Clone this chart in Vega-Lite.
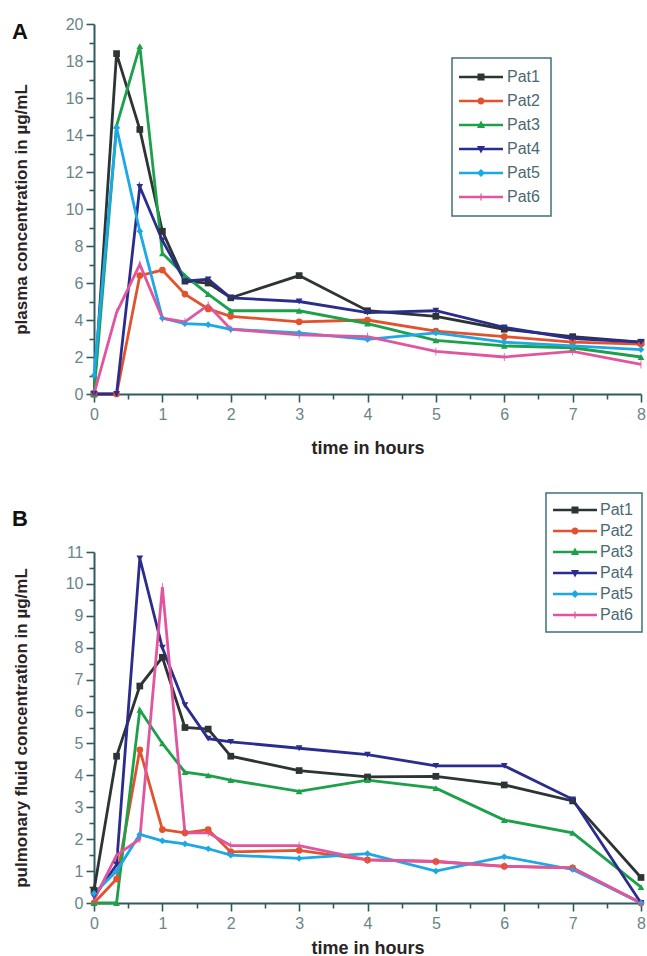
{
  "$schema": "https://vega.github.io/schema/vega-lite/v6.json",
  "padding": {"left": 12, "top": 16, "right": 0, "bottom": 0},
  "spacing": 35,
  "config": {
    "view": {"stroke": null},
    "font": "Liberation Sans",
    "axis": {
      "grid": false,
      "domainColor": "#2f5a60",
      "domainWidth": 2,
      "tickColor": "#2f5a60",
      "tickWidth": 1.6,
      "labelColor": "#6a8589",
      "labelFontSize": 16,
      "labelFont": "Liberation Sans",
      "labelFlush": false,
      "titleFont": "Liberation Sans",
      "titleFontWeight": "bold",
      "titleFontSize": 17,
      "titleColor": "#2a2424"
    },
    "legend": {
      "labelFont": "Liberation Sans",
      "labelFontSize": 16,
      "labelColor": "#4a6a70",
      "strokeColor": "#3f7078",
      "strokeWidth": 1.5,
      "symbolStrokeWidth": 0
    },
    "title": {"font": "Liberation Sans", "fontWeight": "bold", "fontSize": 22, "color": "#111111"}
  },
  "datasets": {
    "a": [
      {"pat": "Pat1", "t": 0, "c": 0}, {"pat": "Pat1", "t": 0.33, "c": 18.4}, {"pat": "Pat1", "t": 0.67, "c": 14.3}, {"pat": "Pat1", "t": 1, "c": 8.8}, {"pat": "Pat1", "t": 1.33, "c": 6.1}, {"pat": "Pat1", "t": 1.67, "c": 6.0}, {"pat": "Pat1", "t": 2, "c": 5.2}, {"pat": "Pat1", "t": 3, "c": 6.4}, {"pat": "Pat1", "t": 4, "c": 4.5}, {"pat": "Pat1", "t": 5, "c": 4.2}, {"pat": "Pat1", "t": 6, "c": 3.5}, {"pat": "Pat1", "t": 7, "c": 3.1}, {"pat": "Pat1", "t": 8, "c": 2.8},
      {"pat": "Pat2", "t": 0, "c": 0}, {"pat": "Pat2", "t": 0.33, "c": 0}, {"pat": "Pat2", "t": 0.67, "c": 6.4}, {"pat": "Pat2", "t": 1, "c": 6.7}, {"pat": "Pat2", "t": 1.33, "c": 5.4}, {"pat": "Pat2", "t": 1.67, "c": 4.6}, {"pat": "Pat2", "t": 2, "c": 4.2}, {"pat": "Pat2", "t": 3, "c": 3.9}, {"pat": "Pat2", "t": 4, "c": 4.0}, {"pat": "Pat2", "t": 5, "c": 3.4}, {"pat": "Pat2", "t": 6, "c": 3.1}, {"pat": "Pat2", "t": 7, "c": 2.8}, {"pat": "Pat2", "t": 8, "c": 2.7},
      {"pat": "Pat3", "t": 0, "c": 0}, {"pat": "Pat3", "t": 0.33, "c": 14.5}, {"pat": "Pat3", "t": 0.67, "c": 18.8}, {"pat": "Pat3", "t": 1, "c": 7.6}, {"pat": "Pat3", "t": 1.33, "c": 6.4}, {"pat": "Pat3", "t": 1.67, "c": 5.4}, {"pat": "Pat3", "t": 2, "c": 4.5}, {"pat": "Pat3", "t": 3, "c": 4.5}, {"pat": "Pat3", "t": 4, "c": 3.8}, {"pat": "Pat3", "t": 5, "c": 2.9}, {"pat": "Pat3", "t": 6, "c": 2.6}, {"pat": "Pat3", "t": 7, "c": 2.5}, {"pat": "Pat3", "t": 8, "c": 2.0},
      {"pat": "Pat4", "t": 0, "c": 0}, {"pat": "Pat4", "t": 0.33, "c": 0}, {"pat": "Pat4", "t": 0.67, "c": 11.2}, {"pat": "Pat4", "t": 1, "c": 8.3}, {"pat": "Pat4", "t": 1.33, "c": 6.1}, {"pat": "Pat4", "t": 1.67, "c": 6.2}, {"pat": "Pat4", "t": 2, "c": 5.2}, {"pat": "Pat4", "t": 3, "c": 5.0}, {"pat": "Pat4", "t": 4, "c": 4.4}, {"pat": "Pat4", "t": 5, "c": 4.5}, {"pat": "Pat4", "t": 6, "c": 3.6}, {"pat": "Pat4", "t": 7, "c": 3.0}, {"pat": "Pat4", "t": 8, "c": 2.8},
      {"pat": "Pat5", "t": 0, "c": 1.0}, {"pat": "Pat5", "t": 0.33, "c": 14.4}, {"pat": "Pat5", "t": 0.67, "c": 8.8}, {"pat": "Pat5", "t": 1, "c": 4.1}, {"pat": "Pat5", "t": 1.33, "c": 3.8}, {"pat": "Pat5", "t": 1.67, "c": 3.75}, {"pat": "Pat5", "t": 2, "c": 3.5}, {"pat": "Pat5", "t": 3, "c": 3.3}, {"pat": "Pat5", "t": 4, "c": 2.95}, {"pat": "Pat5", "t": 5, "c": 3.3}, {"pat": "Pat5", "t": 6, "c": 2.8}, {"pat": "Pat5", "t": 7, "c": 2.6}, {"pat": "Pat5", "t": 8, "c": 2.4},
      {"pat": "Pat6", "t": 0, "c": 0}, {"pat": "Pat6", "t": 0.33, "c": 4.4}, {"pat": "Pat6", "t": 0.67, "c": 7.0}, {"pat": "Pat6", "t": 1, "c": 4.1}, {"pat": "Pat6", "t": 1.33, "c": 3.9}, {"pat": "Pat6", "t": 1.67, "c": 4.8}, {"pat": "Pat6", "t": 2, "c": 3.5}, {"pat": "Pat6", "t": 3, "c": 3.2}, {"pat": "Pat6", "t": 4, "c": 3.1}, {"pat": "Pat6", "t": 5, "c": 2.3}, {"pat": "Pat6", "t": 6, "c": 2.0}, {"pat": "Pat6", "t": 7, "c": 2.3}, {"pat": "Pat6", "t": 8, "c": 1.6}
    ],
    "b": [
      {"pat": "Pat1", "t": 0, "c": 0.4}, {"pat": "Pat1", "t": 0.33, "c": 4.6}, {"pat": "Pat1", "t": 0.67, "c": 6.8}, {"pat": "Pat1", "t": 1, "c": 7.7}, {"pat": "Pat1", "t": 1.33, "c": 5.5}, {"pat": "Pat1", "t": 1.67, "c": 5.45}, {"pat": "Pat1", "t": 2, "c": 4.6}, {"pat": "Pat1", "t": 3, "c": 4.15}, {"pat": "Pat1", "t": 4, "c": 3.95}, {"pat": "Pat1", "t": 5, "c": 3.97}, {"pat": "Pat1", "t": 6, "c": 3.7}, {"pat": "Pat1", "t": 7, "c": 3.2}, {"pat": "Pat1", "t": 8, "c": 0.8},
      {"pat": "Pat2", "t": 0, "c": 0}, {"pat": "Pat2", "t": 0.33, "c": 0.75}, {"pat": "Pat2", "t": 0.67, "c": 4.8}, {"pat": "Pat2", "t": 1, "c": 2.3}, {"pat": "Pat2", "t": 1.33, "c": 2.2}, {"pat": "Pat2", "t": 1.67, "c": 2.3}, {"pat": "Pat2", "t": 2, "c": 1.6}, {"pat": "Pat2", "t": 3, "c": 1.65}, {"pat": "Pat2", "t": 4, "c": 1.35}, {"pat": "Pat2", "t": 5, "c": 1.3}, {"pat": "Pat2", "t": 6, "c": 1.15}, {"pat": "Pat2", "t": 7, "c": 1.1}, {"pat": "Pat2", "t": 8, "c": 0},
      {"pat": "Pat3", "t": 0, "c": 0}, {"pat": "Pat3", "t": 0.33, "c": 0}, {"pat": "Pat3", "t": 0.67, "c": 6.05}, {"pat": "Pat3", "t": 1, "c": 5.0}, {"pat": "Pat3", "t": 1.33, "c": 4.1}, {"pat": "Pat3", "t": 1.67, "c": 4.0}, {"pat": "Pat3", "t": 2, "c": 3.85}, {"pat": "Pat3", "t": 3, "c": 3.5}, {"pat": "Pat3", "t": 4, "c": 3.85}, {"pat": "Pat3", "t": 5, "c": 3.6}, {"pat": "Pat3", "t": 6, "c": 2.6}, {"pat": "Pat3", "t": 7, "c": 2.2}, {"pat": "Pat3", "t": 8, "c": 0.5},
      {"pat": "Pat4", "t": 0, "c": 0.2}, {"pat": "Pat4", "t": 0.33, "c": 1.2}, {"pat": "Pat4", "t": 0.67, "c": 10.8}, {"pat": "Pat4", "t": 1, "c": 8.0}, {"pat": "Pat4", "t": 1.33, "c": 6.2}, {"pat": "Pat4", "t": 1.67, "c": 5.15}, {"pat": "Pat4", "t": 2, "c": 5.05}, {"pat": "Pat4", "t": 3, "c": 4.85}, {"pat": "Pat4", "t": 4, "c": 4.65}, {"pat": "Pat4", "t": 5, "c": 4.3}, {"pat": "Pat4", "t": 6, "c": 4.3}, {"pat": "Pat4", "t": 7, "c": 3.25}, {"pat": "Pat4", "t": 8, "c": 0},
      {"pat": "Pat5", "t": 0, "c": 0.3}, {"pat": "Pat5", "t": 0.33, "c": 1.0}, {"pat": "Pat5", "t": 0.67, "c": 2.15}, {"pat": "Pat5", "t": 1, "c": 1.95}, {"pat": "Pat5", "t": 1.33, "c": 1.85}, {"pat": "Pat5", "t": 1.67, "c": 1.7}, {"pat": "Pat5", "t": 2, "c": 1.5}, {"pat": "Pat5", "t": 3, "c": 1.4}, {"pat": "Pat5", "t": 4, "c": 1.55}, {"pat": "Pat5", "t": 5, "c": 1.0}, {"pat": "Pat5", "t": 6, "c": 1.45}, {"pat": "Pat5", "t": 7, "c": 1.05}, {"pat": "Pat5", "t": 8, "c": 0},
      {"pat": "Pat6", "t": 0, "c": 0.1}, {"pat": "Pat6", "t": 0.33, "c": 1.5}, {"pat": "Pat6", "t": 0.67, "c": 2.0}, {"pat": "Pat6", "t": 1, "c": 9.9}, {"pat": "Pat6", "t": 1.33, "c": 2.2}, {"pat": "Pat6", "t": 1.67, "c": 2.2}, {"pat": "Pat6", "t": 2, "c": 1.8}, {"pat": "Pat6", "t": 3, "c": 1.8}, {"pat": "Pat6", "t": 4, "c": 1.35}, {"pat": "Pat6", "t": 5, "c": 1.3}, {"pat": "Pat6", "t": 6, "c": 1.15}, {"pat": "Pat6", "t": 7, "c": 1.1}, {"pat": "Pat6", "t": 8, "c": 0}
    ]
  },
  "vconcat": [
    {
      "title": {"text": "A", "anchor": "start", "frame": "group", "dx": -82, "offset": -28},
      "width": 547,
      "height": 370,
      "data": {"name": "a"},
      "resolve": {"legend": {"color": "independent", "shape": "independent"}},
      "encoding": {
        "x": {"field": "t", "type": "quantitative", "scale": {"domain": [0, 8], "nice": false},
          "axis": {"title": "time in hours", "titleFontSize": 18, "titlePadding": 17, "labelPadding": 4,
            "values": [0, 0.5, 1, 1.5, 2, 2.5, 3, 3.5, 4, 4.5, 5, 5.5, 6, 6.5, 7, 7.5, 8],
            "labelExpr": "datum.value % 1 === 0 ? format(datum.value, 'd') : ''",
            "tickSize": {"condition": {"test": "datum.value % 1 !== 0", "value": 5}, "value": 8}}},
        "y": {"field": "c", "type": "quantitative", "scale": {"domain": [0, 20], "nice": false},
          "axis": {"title": "plasma concentration in µg/mL", "titlePadding": 35, "labelPadding": 3,
            "values": [0, 1, 2, 3, 4, 5, 6, 7, 8, 9, 10, 11, 12, 13, 14, 15, 16, 17, 18, 19, 20],
            "labelExpr": "datum.value % 2 === 0 ? format(datum.value, 'd') : ''",
            "tickSize": {"condition": {"test": "datum.value % 2 !== 0", "value": 5}, "value": 8}}},
        "color": {"field": "pat", "type": "nominal", "legend": null,
          "scale": {"domain": ["Pat1", "Pat2", "Pat3", "Pat4", "Pat5", "Pat6"], "range": ["#2d3436", "#e2522d", "#1ca04a", "#2b2d8e", "#1aa8e6", "#e2559e"]}}
      },
      "layer": [
        {"mark": {"type": "line", "strokeWidth": 2.8}},
        {"mark": {"type": "point", "filled": true, "opacity": 1, "size": 45},
          "encoding": {"shape": {"condition": [
            {"test": "datum.pat === 'Pat1'", "value": "square"},
            {"test": "datum.pat === 'Pat2'", "value": "circle"},
            {"test": "datum.pat === 'Pat3'", "value": "triangle-up"},
            {"test": "datum.pat === 'Pat4'", "value": "triangle-down"},
            {"test": "datum.pat === 'Pat5'", "value": "diamond"}],
            "value": "M-0.12,-1.2H0.12V1.2H-0.12Z"}}},
        {"transform": [{"filter": "datum.t < 0"}],
          "mark": {"type": "point", "filled": true, "opacity": 1, "size": 100},
          "encoding": {
            "color": {"field": "pat", "type": "nominal", "title": null,
              "legend": {"orient": "none", "legendX": 358, "legendY": 34, "padding": 11, "rowPadding": 8, "symbolOffset": 10, "labelOffset": 18, "title": null}},
            "shape": {"field": "pat", "type": "nominal", "title": null,
              "scale": {"domain": ["Pat1", "Pat2", "Pat3", "Pat4", "Pat5", "Pat6"], "range": [
                "M-4.4,-0.26H4.4V0.26H-4.4Z M-0.7,-0.7H0.7V0.7H-0.7Z",
                "M-4.4,-0.26H4.4V0.26H-4.4Z M0.7,0A0.7,0.7 0 1,1 -0.7,0A0.7,0.7 0 1,1 0.7,0Z",
                "M-4.4,-0.26H4.4V0.26H-4.4Z M0,-0.9L0.8,0.6H-0.8Z",
                "M-4.4,-0.26H4.4V0.26H-4.4Z M0,0.9L-0.8,-0.6H0.8Z",
                "M-4.4,-0.26H4.4V0.26H-4.4Z M0,-0.8L0.8,0L0,0.8L-0.8,0Z",
                "M-4.4,-0.26H4.4V0.26H-4.4Z M-0.12,-0.7H0.12V0.7H-0.12Z"]},
              "legend": {"orient": "none", "legendX": 358, "legendY": 34, "padding": 11, "rowPadding": 8, "symbolOffset": 10, "labelOffset": 18, "title": null}}
          }}
      ]
    },
    {
      "title": {"text": "B", "anchor": "start", "frame": "group", "dx": -82, "offset": -39},
      "width": 547,
      "height": 351,
      "data": {"name": "b"},
      "resolve": {"legend": {"color": "independent", "shape": "independent"}},
      "encoding": {
        "x": {"field": "t", "type": "quantitative", "scale": {"domain": [0, 8], "nice": false},
          "axis": {"title": "time in hours", "titleFontSize": 18, "titlePadding": 8, "labelPadding": 4,
            "values": [0, 0.5, 1, 1.5, 2, 2.5, 3, 3.5, 4, 4.5, 5, 5.5, 6, 6.5, 7, 7.5, 8],
            "labelExpr": "datum.value % 1 === 0 ? format(datum.value, 'd') : ''",
            "tickSize": {"condition": {"test": "datum.value % 1 !== 0", "value": 5}, "value": 8}}},
        "y": {"field": "c", "type": "quantitative", "scale": {"domain": [0, 11], "nice": false},
          "axis": {"title": "pulmonary fluid concentration in µg/mL", "titlePadding": 35, "labelPadding": 3,
            "values": [0, 0.5, 1, 1.5, 2, 2.5, 3, 3.5, 4, 4.5, 5, 5.5, 6, 6.5, 7, 7.5, 8, 8.5, 9, 9.5, 10, 10.5, 11],
            "labelExpr": "datum.value % 1 === 0 ? format(datum.value, 'd') : ''",
            "tickSize": {"condition": {"test": "datum.value % 1 !== 0", "value": 5}, "value": 8}}},
        "color": {"field": "pat", "type": "nominal", "legend": null,
          "scale": {"domain": ["Pat1", "Pat2", "Pat3", "Pat4", "Pat5", "Pat6"], "range": ["#2d3436", "#e2522d", "#1ca04a", "#2b2d8e", "#1aa8e6", "#e2559e"]}}
      },
      "layer": [
        {"mark": {"type": "line", "strokeWidth": 2.8}},
        {"mark": {"type": "point", "filled": true, "opacity": 1, "size": 45},
          "encoding": {"shape": {"condition": [
            {"test": "datum.pat === 'Pat1'", "value": "square"},
            {"test": "datum.pat === 'Pat2'", "value": "circle"},
            {"test": "datum.pat === 'Pat3'", "value": "triangle-up"},
            {"test": "datum.pat === 'Pat4'", "value": "triangle-down"},
            {"test": "datum.pat === 'Pat5'", "value": "diamond"}],
            "value": "M-0.12,-1.2H0.12V1.2H-0.12Z"}}},
        {"transform": [{"filter": "datum.t < 0"}],
          "mark": {"type": "point", "filled": true, "opacity": 1, "size": 100},
          "encoding": {
            "color": {"field": "pat", "type": "nominal", "title": null,
              "legend": {"orient": "none", "legendX": 452, "legendY": -59, "padding": 9, "rowPadding": 5, "symbolOffset": 12, "labelOffset": 17, "title": null}},
            "shape": {"field": "pat", "type": "nominal", "title": null,
              "scale": {"domain": ["Pat1", "Pat2", "Pat3", "Pat4", "Pat5", "Pat6"], "range": [
                "M-4.4,-0.26H4.4V0.26H-4.4Z M-0.7,-0.7H0.7V0.7H-0.7Z",
                "M-4.4,-0.26H4.4V0.26H-4.4Z M0.7,0A0.7,0.7 0 1,1 -0.7,0A0.7,0.7 0 1,1 0.7,0Z",
                "M-4.4,-0.26H4.4V0.26H-4.4Z M0,-0.9L0.8,0.6H-0.8Z",
                "M-4.4,-0.26H4.4V0.26H-4.4Z M0,0.9L-0.8,-0.6H0.8Z",
                "M-4.4,-0.26H4.4V0.26H-4.4Z M0,-0.8L0.8,0L0,0.8L-0.8,0Z",
                "M-4.4,-0.26H4.4V0.26H-4.4Z M-0.12,-0.7H0.12V0.7H-0.12Z"]},
              "legend": {"orient": "none", "legendX": 452, "legendY": -59, "padding": 9, "rowPadding": 5, "symbolOffset": 12, "labelOffset": 17, "title": null}}
          }}
      ]
    }
  ]
}
